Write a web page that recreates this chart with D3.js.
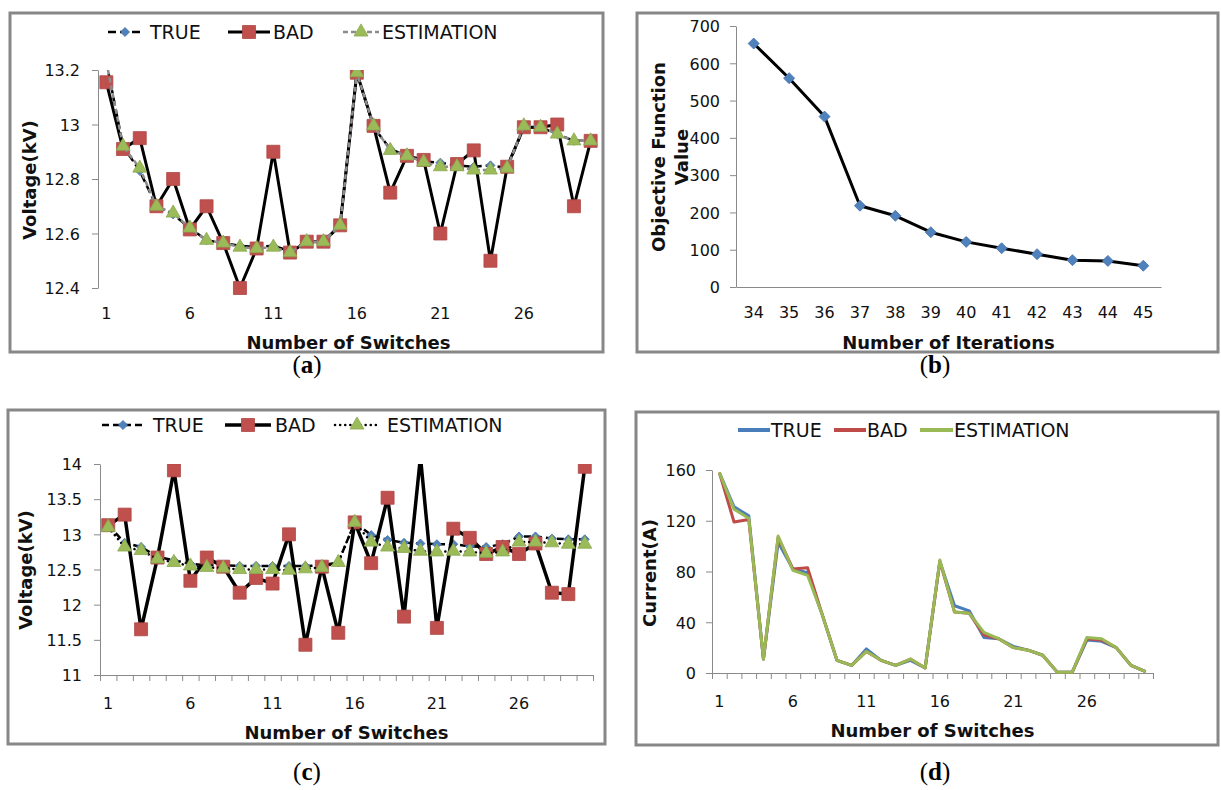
<!DOCTYPE html>
<html lang="en">
<head>
<meta charset="UTF-8">
<title>Voltage, objective and current results</title>
<script src="https://d3js.org/d3.v7.min.js"></script>
<style>
  body { margin: 0; background: #fff; }
  svg { display: block; font-family: "DejaVu Sans", sans-serif; }
  .frame { fill: none; stroke: #878787; stroke-width: 3; }
  .axis path, .axis line { stroke: #8a8a8a; stroke-width: 1; }
  .axis text { font-size: 16px; fill: #111; font-family: "DejaVu Sans", sans-serif; }
  .atitle { font-weight: bold; font-size: 18px; fill: #111; }
  .legend text { font-size: 19px; fill: #111; }
  .caption { font-family: "Liberation Serif", serif; font-size: 25px; fill: #000; }
</style>
</head>
<body>
<script>
// ---- data ----
const switchNos = [1, 2, 3, 4, 5, 6, 7, 8, 9, 10, 11, 12, 13, 14, 15, 16, 17, 18, 19, 20, 21, 22, 23, 24, 25, 26, 27, 28, 29, 30];
const switchTicks = [1, 6, 11, 16, 21, 26];

// (a) voltage, small bad data
const aTrue = [13.23, 12.92, 12.83, 12.70, 12.67, 12.62, 12.575, 12.565, 12.555, 12.55, 12.555, 12.535, 12.57, 12.57, 12.63, 13.19, 12.99, 12.91, 12.885, 12.865, 12.86, 12.85, 12.845, 12.85, 12.84, 12.99, 12.99, 12.965, 12.94, 12.94];
const aBad = [13.155, 12.91, 12.95, 12.70, 12.80, 12.615, 12.70, 12.565, 12.40, 12.545, 12.90, 12.53, 12.57, 12.57, 12.63, 13.19, 12.995, 12.75, 12.885, 12.87, 12.60, 12.855, 12.905, 12.50, 12.845, 12.99, 12.99, 13.00, 12.70, 12.94];
const aEst = [13.23, 12.92, 12.84, 12.70, 12.675, 12.62, 12.575, 12.565, 12.55, 12.545, 12.55, 12.53, 12.57, 12.57, 12.63, 13.19, 12.995, 12.905, 12.885, 12.862, 12.845, 12.845, 12.833, 12.833, 12.84, 12.995, 12.99, 12.965, 12.94, 12.94];
const aYTicks = [12.4, 12.6, 12.8, 13, 13.2];

// (b) objective function
const iterations = [34, 35, 36, 37, 38, 39, 40, 41, 42, 43, 44, 45];
const objValues = [653, 560, 457, 218, 191, 147, 121, 104, 88, 72, 70, 57];
const bYTicks = [0, 100, 200, 300, 400, 500, 600, 700];

// (c) voltage, large bad data
const cTrue = [13.13, 12.88, 12.82, 12.68, 12.63, 12.58, 12.56, 12.56, 12.55, 12.55, 12.55, 12.55, 12.55, 12.56, 12.60, 13.17, 12.99, 12.92, 12.88, 12.87, 12.86, 12.86, 12.83, 12.82, 12.86, 12.97, 12.97, 12.94, 12.93, 12.93];
const cBad = [13.13, 13.28, 11.65, 12.67, 13.91, 12.34, 12.67, 12.54, 12.17, 12.38, 12.30, 13.00, 11.43, 12.54, 11.60, 13.17, 12.59, 13.52, 11.83, 14.10, 11.67, 13.08, 12.95, 12.72, 12.82, 12.72, 12.87, 12.17, 12.15, 13.96];
const cEst = [13.10, 12.82, 12.77, 12.65, 12.60, 12.55, 12.53, 12.52, 12.50, 12.50, 12.50, 12.49, 12.51, 12.53, 12.60, 13.17, 12.89, 12.82, 12.80, 12.76, 12.75, 12.76, 12.75, 12.73, 12.75, 12.89, 12.89, 12.88, 12.86, 12.86];
const cYTicks = [11, 11.5, 12, 12.5, 13, 13.5, 14];

// (d) current
const dTrue = [158, 131, 124, 11, 103, 82, 79, 46, 10, 6, 19, 10, 6, 10, 4, 88, 53, 49, 28, 27, 21, 18, 14, 0.5, 0.5, 26, 25, 20, 6, 1];
const dBad = [158, 119, 121, 11, 107, 82, 83, 46, 10, 6, 17, 10, 6, 11, 4, 88, 48, 47, 30, 27, 20, 18, 14, 0.5, 0.5, 27, 26, 20, 6, 1];
const dEst = [158, 129, 122, 11, 108, 81, 77, 46, 10, 6, 17, 10, 6, 11, 4, 89, 48, 47, 32, 27, 20, 18, 14, 0.5, 0.5, 28, 27, 20, 6, 1];
const dYTicks = [0, 40, 80, 120, 160];

const BLUE = "#4f81bd", RED = "#c0504d", GREEN = "#9bbb59";

const svg = d3.select("body").append("svg").attr("width", 1221).attr("height", 790);

// marker drawing, size = width in px
function marker(g, type, x, y, size, color) {
  let path;
  if (type === "square") path = d3.symbol(d3.symbolSquare, size * size)();
  else if (type === "diamond") path = d3.symbol(d3.symbolSquare, size * size / 2)();
  else path = d3.symbol(d3.symbolTriangle, size * size * Math.sqrt(3) / 4)();
  g.append("path")
    .attr("d", path)
    .attr("transform", `translate(${x},${y})` + (type === "diamond" ? " rotate(45)" : ""))
    .attr("fill", color)
    .attr("stroke", d3.color(color).darker(0.3))
    .attr("stroke-width", 0.8);
}

function panel(o) {
  const g = svg.append("g");
  g.append("rect").attr("class", "frame")
    .attr("x", o.frame[0]).attr("y", o.frame[1])
    .attr("width", o.frame[2] - o.frame[0]).attr("height", o.frame[3] - o.frame[1]);

  const x = d3.scaleLinear().domain([o.cats[0] - 0.5, o.cats[o.cats.length - 1] + 0.5]).range(o.xRange);
  const y = d3.scaleLinear().domain(o.yDomain).range(o.yRange);

  // y axis
  const ya = g.append("g").attr("class", "axis")
    .attr("transform", `translate(${o.xRange[0]},0)`)
    .call(d3.axisLeft(y).tickValues(o.yTicks).tickSize(6).tickSizeOuter(0).tickPadding(o.yPad || 12)
      .tickFormat(d3.format("")));
  ya.selectAll("text").attr("dy", "0.36em");

  // x axis line / boundary ticks
  if (o.xLine) {
    g.append("g").attr("class", "axis")
      .attr("transform", `translate(0,${o.yRange[0]})`)
      .call(d3.axisBottom(x)
        .tickValues(o.boundaryTicks ? d3.range(o.cats.length + 1).map(i => o.cats[0] - 0.5 + i) : [])
        .tickSize(6).tickSizeOuter(0).tickFormat(""));
  }
  // x labels
  g.append("g").selectAll("text")
    .data(o.xLabels)
    .join("text")
    .attr("x", d => x(d)).attr("y", o.yRange[0] + o.xLabelDy)
    .attr("text-anchor", "middle")
    .attr("font-size", 16).attr("fill", "#111")
    .text(d => d);

  // titles
  g.append("text").attr("class", "atitle")
    .attr("x", (o.xRange[0] + o.xRange[1]) / 2).attr("y", o.xTitleY)
    .attr("text-anchor", "middle").text(o.xTitle);
  o.yTitle.forEach((t, i) => {
    g.append("text").attr("class", "atitle")
      .attr("transform", `translate(${o.yTitleX + i * 23},${o.yTitleCy}) rotate(-90)`)
      .attr("text-anchor", "middle").attr("dy", "0.35em").text(t);
  });

  // clip to plot
  const clipId = "clip-" + o.name;
  g.append("clipPath").attr("id", clipId).append("rect")
    .attr("x", o.xRange[0] - 10).attr("y", o.yRange[1])
    .attr("width", o.xRange[1] - o.xRange[0] + 20).attr("height", o.yRange[0] - o.yRange[1] + 10);
  const plot = g.append("g").attr("clip-path", `url(#${clipId})`);

  o.series.forEach(s => {
    const line = d3.line().x((d, i) => x(o.cats[i])).y(d => y(d));
    plot.append("path")
      .datum(s.values)
      .attr("d", line)
      .attr("fill", "none")
      .attr("stroke", s.stroke)
      .attr("stroke-width", s.width)
      .attr("stroke-dasharray", s.dash || null)
      .attr("stroke-linecap", s.cap || "butt")
      .attr("stroke-linejoin", "round");
    if (s.marker) {
      s.values.forEach((v, i) => marker(plot, s.marker, x(o.cats[i]), y(v), s.msize, s.color));
    }
  });

  // legend
  if (o.legend) {
    const lg = g.append("g").attr("class", "legend");
    o.legend.forEach(it => {
      const s = it.s;
      lg.append("line")
        .attr("x1", it.x0).attr("x2", it.x1).attr("y1", o.legendY).attr("y2", o.legendY)
        .attr("stroke", s.stroke).attr("stroke-width", s.lw || s.width)
        .attr("stroke-dasharray", s.dash || null).attr("stroke-linecap", s.cap || "butt");
      if (s.marker) marker(lg, s.marker, (it.x0 + it.x1) / 2, o.legendY, s.msize, s.color);
      lg.append("text").attr("x", it.tx).attr("y", o.legendY).attr("dy", "0.36em")
        .attr("font-size", o.legendSize || 19).text(it.label);
    });
  }

  // caption
  const cap = svg.append("text").attr("class", "caption")
    .attr("x", o.caption[0]).attr("y", o.caption[1]).attr("text-anchor", "middle");
  cap.append("tspan").text("(");
  cap.append("tspan").attr("font-weight", "bold").text(o.name);
  cap.append("tspan").text(")");
}

// (a)
const aSer = [
  { values: aTrue, stroke: "#000", width: 2.5, dash: "8,4", marker: "diamond", msize: 9, color: BLUE },
  { values: aBad, stroke: "#000", width: 3, marker: "square", msize: 13, color: RED },
  { values: aEst, stroke: "#8c8c8c", width: 2.5, dash: "5,3", marker: "triangle", msize: 14, color: GREEN }
];
panel({
  name: "a", frame: [10, 13, 603, 352], cats: switchNos,
  xRange: [98, 599], yRange: [288, 70], yDomain: [12.4, 13.2], yTicks: aYTicks,
  xLine: false, xLabels: switchTicks, xLabelDy: 31,
  xTitle: "Number of Switches", xTitleY: 349, yTitle: ["Voltage(kV)"], yTitleX: 30, yTitleCy: 180,
  series: aSer, legendY: 32,
  legend: [
    { s: aSer[0], x0: 108, x1: 142, tx: 150, label: "TRUE" },
    { s: aSer[1], x0: 228, x1: 270, tx: 273, label: "BAD" },
    { s: aSer[2], x0: 343, x1: 379, tx: 382, label: "ESTIMATION" }
  ],
  caption: [307, 373]
});

// (b)
const bSer = [
  { values: objValues, stroke: "#000", width: 3, marker: "diamond", msize: 11, color: BLUE }
];
panel({
  name: "b", frame: [637, 13, 1218, 352], cats: iterations,
  xRange: [736, 1161], yRange: [287, 26], yDomain: [0, 700], yTicks: bYTicks, yPad: 10,
  xLine: true, boundaryTicks: false, xLabels: iterations, xLabelDy: 31,
  xTitle: "Number of Iterations", xTitleY: 349, yTitle: ["Objective Function", "Value"], yTitleX: 659, yTitleCy: 157,
  series: bSer,
  caption: [935, 373]
});

// (c)
const cSer = [
  { values: cTrue, stroke: "#000", width: 2.5, dash: "7,4", marker: "diamond", msize: 9, color: BLUE },
  { values: cBad, stroke: "#000", width: 3.5, marker: "square", msize: 13, color: RED },
  { values: cEst, stroke: "#000", width: 2.5, dash: "0.1,5", cap: "round", marker: "triangle", msize: 14, color: GREEN }
];
panel({
  name: "c", frame: [8, 410, 605, 744], cats: switchNos,
  xRange: [100, 593], yRange: [675, 464], yDomain: [11, 14], yTicks: cYTicks,
  xLine: true, boundaryTicks: true, xLabels: switchTicks, xLabelDy: 34,
  xTitle: "Number of Switches", xTitleY: 739, yTitle: ["Voltage(kV)"], yTitleX: 26, yTitleCy: 570,
  series: cSer, legendY: 425,
  legend: [
    { s: cSer[0], x0: 102, x1: 144, tx: 153, label: "TRUE" },
    { s: cSer[1], x0: 225, x1: 271, tx: 275, label: "BAD" },
    { s: cSer[2], x0: 335, x1: 379, tx: 387, label: "ESTIMATION" }
  ],
  caption: [307, 780]
});

// (d)
const dSer = [
  { values: dTrue, stroke: "#4a7ebb", width: 3, lw: 4 },
  { values: dBad, stroke: "#be4b48", width: 3, lw: 4 },
  { values: dEst, stroke: "#98b954", width: 3, lw: 4 }
];
panel({
  name: "d", frame: [636, 412, 1218, 745], cats: switchNos,
  xRange: [712, 1153], yRange: [673, 470], yDomain: [0, 160], yTicks: dYTicks, yPad: 10,
  xLine: true, boundaryTicks: true, xLabels: switchTicks, xLabelDy: 34,
  xTitle: "Number of Switches", xTitleY: 737, yTitle: ["Current(A)"], yTitleX: 650, yTitleCy: 573,
  series: dSer, legendY: 430, legendSize: 17,
  legend: [
    { s: dSer[0], x0: 738, x1: 770, tx: 771, label: "TRUE" },
    { s: dSer[1], x0: 834, x1: 866, tx: 867, label: "BAD" },
    { s: dSer[2], x0: 920, x1: 953, tx: 954, label: "ESTIMATION" }
  ],
  caption: [935, 780]
});
</script>
</body>
</html>
